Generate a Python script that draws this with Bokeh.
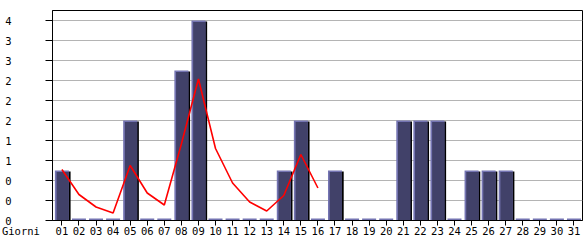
from bokeh.plotting import figure
from bokeh.models import FixedTicker, Range1d
from bokeh.embed import file_html
from bokeh.resources import INLINE

days = list(range(1, 32))
day_labels = ["%02d" % d for d in days]
bar_values = [1, 0, 0, 0, 2, 0, 0, 3, 4, 0, 0, 0, 0, 1, 2, 0, 1, 0, 0, 0,
              2, 2, 2, 0, 1, 1, 1, 0, 0, 0, 0]
line_days = list(range(1, 17))
line_values = [1.02, 0.52, 0.27, 0.15, 1.1, 0.55, 0.31, 1.53, 2.83, 1.44,
               0.75, 0.37, 0.19, 0.5, 1.32, 0.65]
y_ticks = [0, 0.4, 0.8, 1.2, 1.6, 2.0, 2.4, 2.8, 3.2, 3.6, 4.0]
y_tick_labels = ["0", "0", "0", "1", "1", "2", "2", "2", "3", "3", "4"]
x_title = "Giorni"

FONT = "DejaVu Sans Mono"

p = figure(width=585, height=240, output_backend="svg", toolbar_location=None,
           x_range=Range1d(0.45, 31.5), y_range=Range1d(0, 4.2),
           min_border_left=52, min_border_right=3, min_border_top=10,
           min_border_bottom=20)
p.background_fill_color = "white"
p.border_fill_color = "white"
p.outline_line_color = "black"
p.outline_line_width = 1

w = 0.82
nz_x = [d for d, v in zip(days, bar_values) if v > 0]
nz_v = [v for v in bar_values if v > 0]
# shadow
p.vbar(x=[d + 0.1 for d in nz_x], top=[v - 0.02 for v in nz_v], width=w, bottom=0,
       fill_color="black", line_color=None)
# light highlight
p.vbar(x=days, top=[max(v, 0.04) for v in bar_values], width=w, bottom=0,
       fill_color="#7474b2", line_color=None)
# dark fill
p.vbar(x=[d + 0.05 for d in nz_x], top=[v - 0.03 for v in nz_v], width=w - 0.1, bottom=0,
       fill_color="#414169", line_color=None)

p.line(line_days, line_values, line_color="#ff0000", line_width=1.6)

p.xgrid.visible = False
p.ygrid.grid_line_color = "#b4b4b4"
p.ygrid.ticker = FixedTicker(ticks=y_ticks)

p.yaxis.ticker = FixedTicker(ticks=y_ticks)
p.yaxis.major_label_overrides = {t: l for t, l in zip(y_ticks, y_tick_labels)}
p.yaxis.major_tick_out = 7
p.yaxis.major_tick_in = 0
p.yaxis.minor_tick_out = 0
p.yaxis.minor_tick_in = 0
p.yaxis.major_label_standoff = 34
p.yaxis.axis_line_color = "black"
p.yaxis.major_tick_line_color = "black"

p.xaxis.ticker = FixedTicker(ticks=days)
p.xaxis.major_label_overrides = {d: l for d, l in zip(days, day_labels)}
p.xaxis.major_tick_out = 5
p.xaxis.major_tick_in = 0
p.xaxis.minor_tick_out = 0
p.xaxis.minor_tick_in = 0
p.xaxis.major_label_standoff = 1
p.xaxis.axis_line_color = "black"
p.xaxis.major_tick_line_color = "black"

for ax in (p.xaxis, p.yaxis):
    ax.major_label_text_font = FONT
    ax.major_label_text_font_size = "10.5px"
    ax.major_label_text_color = "black"

xa = p.xaxis[0]
# pad with non-breaking spaces so the centred label sits at the far left
xa.axis_label = x_title + "\u00a0" * 10
xa.axis_label_text_font = FONT
xa.axis_label_text_font_size = "10.5px"
xa.axis_label_text_font_style = "normal"
xa.axis_label_text_color = "black"
xa.axis_label_standoff = -13
xa.axis_label_align = "start"

open("out.html", "w").write(file_html(p, INLINE))
